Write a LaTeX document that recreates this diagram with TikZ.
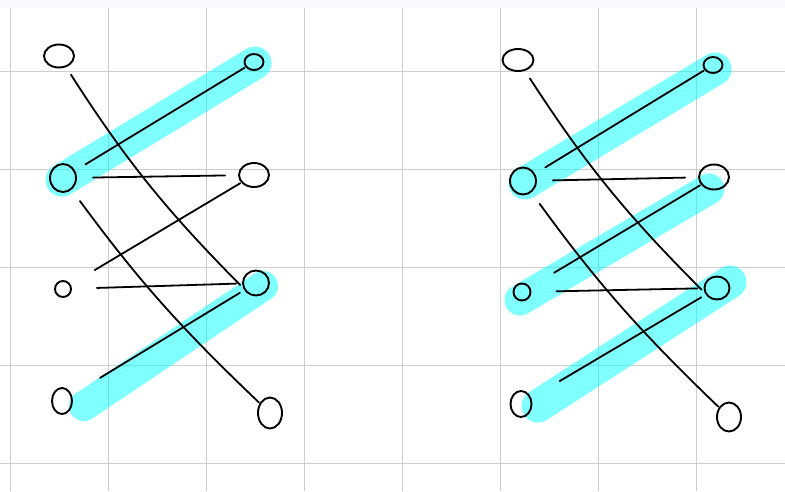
\documentclass[tikz,border=0pt]{standalone}
\usetikzlibrary{shapes.geometric,calc,backgrounds}
\definecolor{matchCyan}{RGB}{0,255,255}
\definecolor{gridGray}{RGB}{205,205,205}
\definecolor{topBand}{RGB}{248,248,253}

\begin{document}
\begin{tikzpicture}[
  x=1pt,y=-1pt,
  vertex/.style 2 args={draw,ellipse,line width=1.9pt,minimum width=#1pt,minimum height=#2pt,inner sep=0pt},
  edge/.style={line width=1.8pt,line cap=round},
  match/.style={matchCyan,opacity=0.5,line width=33pt,line cap=round},
  gridline/.style={gridGray,line width=0.9pt}
]
\useasboundingbox (0,0) rectangle (785,491);

% left graph
\node[vertex={30}{23}] (a-l1) at (59,56) {};
\node[vertex={26}{28}] (a-l2) at (63,178) {};
\node[vertex={16}{16}] (a-l3) at (63,289) {};
\node[vertex={20}{26}] (a-l4) at (62,401) {};
\node[vertex={19}{16}] (a-r1) at (254,62) {};
\node[vertex={30}{24}] (a-r2) at (254,175) {};
\node[vertex={26}{25}] (a-r3) at (256,283) {};
\node[vertex={24}{31}] (a-r4) at (270,413) {};

% right graph
\node[vertex={31}{22}] (b-l1) at (518,60) {};
\node[vertex={26}{27}] (b-l2) at (523,181) {};
\node[vertex={17}{17}] (b-l3) at (522,292) {};
\node[vertex={21}{26}] (b-l4) at (521,404) {};
\node[vertex={19}{16}] (b-r1) at (713,65) {};
\node[vertex={30}{25}] (b-r2) at (714,177) {};
\node[vertex={25}{23}] (b-r3) at (717,288) {};
\node[vertex={24}{29}] (b-r4) at (729,417) {};

\begin{scope}[on background layer]
  \fill[topBand] (0,0) rectangle (785,8);
  \foreach \gx in {10,108,206,304,402,500,598,696}
    \draw[gridline] (\gx,8) -- (\gx,491);
  \foreach \gy in {71,169,267,365,463}
    \draw[gridline] (0,\gy) -- (785,\gy);
  % matched pairs
  \draw[match] ($(a-l2.center)+(-1,2)$) -- ($(a-r1.center)+(1,1)$);
  \draw[match,line width=30pt] ($(a-l4.center)+(22,5)$) -- ($(a-r3.center)+(7,3)$);
  \draw[match] ($(b-l2.center)+(2,2)$) -- ($(b-r1.center)+(2,4)$);
  \draw[match,line width=31pt] ($(b-l3.center)+(-2,8)$) -- ($(b-r2.center)+(-5,12)$);
  \draw[match] ($(b-l4.center)+(17,2)$) -- ($(b-r3.center)+(13,-6)$);
\end{scope}

% same edges in both graphs
\foreach \p in {a,b} {
  \draw[edge,shorten <=9pt,shorten >=4pt] (\p-l1) to[bend right=6] (\p-r3.200);
  \draw[edge,shorten <=12pt,shorten >=1pt] (\p-l2) -- (\p-r1);
  \draw[edge,shorten <=16pt,shorten >=13pt] (\p-l2) -- (\p-r2);
  \draw[edge,shorten <=14pt,shorten >=1pt] (\p-l2) to[bend right=5] (\p-r4);
  \draw[edge,shorten <=28pt,shorten >=1pt] (\p-l3) -- (\p-r2);
  \draw[edge,shorten <=25pt,shorten >=6pt] (\p-l3) -- (\p-r3);
  \draw[edge,shorten <=33pt,shorten >=5pt] (\p-l4) -- (\p-r3);
}
\end{tikzpicture}
\end{document}
